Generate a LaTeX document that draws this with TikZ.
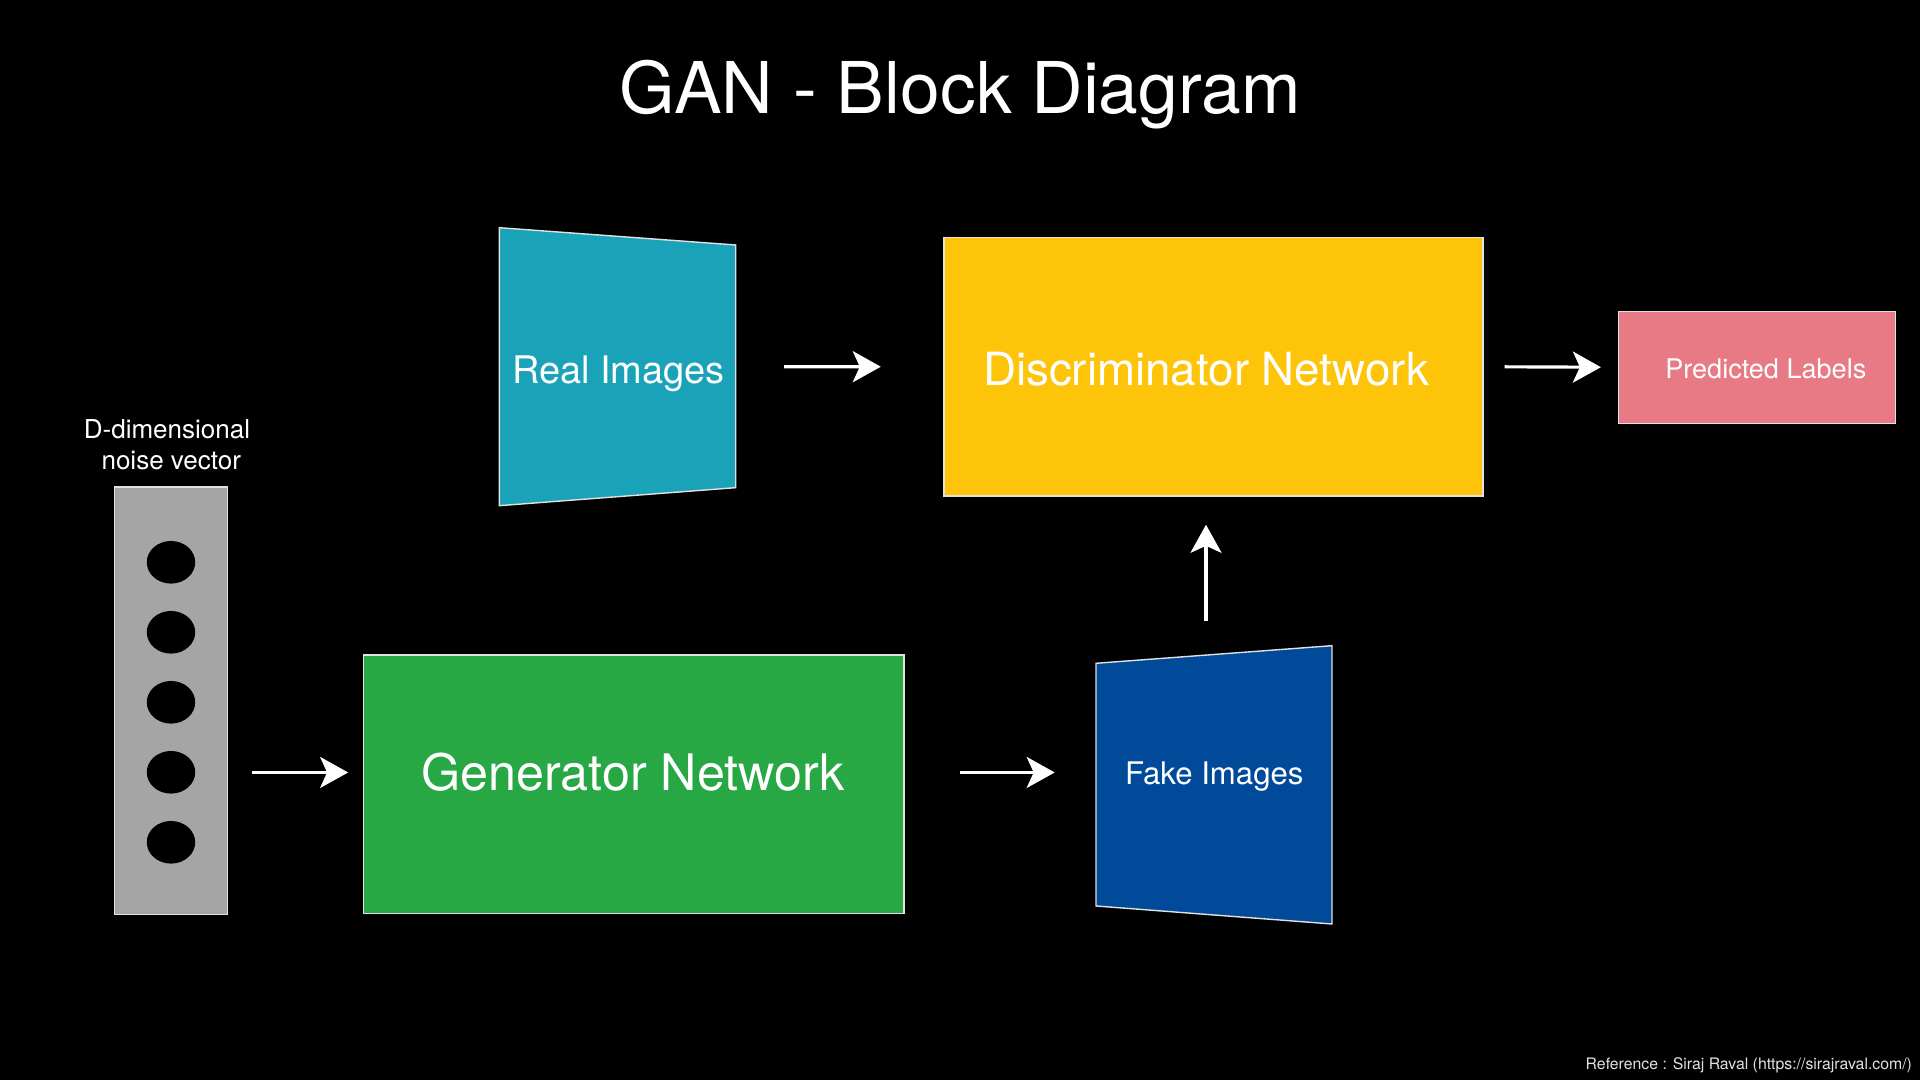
\documentclass[tikz,border=0pt]{standalone}
\usepackage{fontspec}
\setmainfont{TeX Gyre Heros}
\usetikzlibrary{arrows.meta}

\definecolor{realcol}{RGB}{25,162,184}
\definecolor{disccol}{RGB}{254,196,10}
\definecolor{gencol}{RGB}{39,168,69}
\definecolor{fakecol}{RGB}{0,74,153}
\definecolor{predcol}{RGB}{232,122,133}
\definecolor{noisecol}{RGB}{165,165,165}
\definecolor{edgecol}{RGB}{225,225,225}

\tikzset{
  block/.style = {shape = rectangle, draw = edgecol, line width = 0.4pt, inner sep = 0pt},
  ghost/.style = {shape = rectangle, inner sep = 0pt},
  caption/.style = {text = white, inner sep = 0pt, anchor = base},
  flow/.style = {-{Stealth[length = 0.28cm, width = 0.31cm, inset = 0.07cm]}, draw = white, line width = 0.9pt},
}

\begin{document}
\begin{tikzpicture}[x = 0.01cm, y = -0.01cm]
    \fill [black] (0, 0) rectangle (1920, 1080);
    \useasboundingbox (0, 0) rectangle (1920, 1080);

    \node (title) [caption, font = \fontsize{20.3}{24}\selectfont] at (960, 113.2) {GAN - Block Diagram};

    % noise vector
    \node (noise) [block, fill = noisecol, minimum width = 1.134cm, minimum height = 4.27cm] at (171, 700.8) {};
    \foreach \i in {1,...,5} {
        \coordinate (c\i) at (171, 492.3 + 70 * \i);
        \fill [black] (c\i) ellipse [x radius = 0.242cm, y radius = 0.213cm];
    }
    \node (noiselabel) [caption, font = \fontsize{7.4}{8.8}\selectfont] at (167, 438.3) {D-dimensional};
    \node (noiselabel2) [caption, font = \fontsize{7.4}{8.8}\selectfont] at (171.3, 469.3) {noise vector};

    % real images
    \filldraw [fill = realcol, draw = edgecol, line width = 0.4pt] (499.3, 227.7) -- (735.7, 245) -- (735.7, 487.7) -- (499.3, 505.7) -- cycle;
    \node (real) [ghost, minimum width = 2.364cm, minimum height = 2.78cm] at (617.5, 366.7) {};
    \node (reallabel) [caption, font = \fontsize{10.8}{13}\selectfont] at (618.5, 383.3) {Real Images};

    \node (disc) [block, fill = disccol, minimum width = 5.39cm, minimum height = 2.585cm] at (1213.5, 366.75) {};
    \node (disclabel) [caption, font = \fontsize{13}{16}\selectfont] at (1206, 385.6) {Discriminator Network};

    \node (pred) [block, fill = predcol, minimum width = 2.774cm, minimum height = 1.12cm] at (1757, 367.3) {};
    \node (predlabel) [caption, font = \fontsize{7.7}{9}\selectfont] at (1765.8, 378.3) {Predicted Labels};

    \node (gen) [block, fill = gencol, minimum width = 5.40cm, minimum height = 2.585cm] at (633.7, 784.25) {};
    \node (genlabel) [caption, font = \fontsize{14.3}{17}\selectfont] at (633, 790.8) {Generator Network};

    % fake images
    \filldraw [fill = fakecol, draw = edgecol, line width = 0.4pt] (1096, 663.3) -- (1332, 645.7) -- (1332, 924) -- (1096, 906) -- cycle;
    \node (fake) [ghost, minimum width = 2.36cm, minimum height = 2.783cm] at (1214, 784.85) {};
    \node (fakelabel) [caption, font = \fontsize{8.86}{11}\selectfont] at (1214.3, 785) {Fake Images};

    \draw [flow, shorten < = 0.233cm, shorten > = 0.147cm] (noise.east |- genlabel) -- (gen.west |- genlabel);
    \draw [flow, shorten < = 0.476cm, shorten > = 0.623cm] (real.east) -- (disc.west);
    \draw [flow, shorten < = 0.55cm, shorten > = 0.405cm] (gen.east |- genlabel) -- (fake.west |- genlabel);
    \draw [flow, shorten < = 0.24cm, shorten > = 0.28cm] (fake.north -| disclabel) -- (disc.south -| disclabel);
    \draw [flow, shorten < = 0.207cm, shorten > = 0.166cm] (disc.east) -- (pred.west);

    \node (credit) [text = edgecol, inner sep = 0pt, anchor = base east, font = \fontsize{4.5}{5.4}\selectfont] at (1912.7, 1070) {Reference : Siraj Raval (https://sirajraval.com/)};
\end{tikzpicture}
\end{document}
